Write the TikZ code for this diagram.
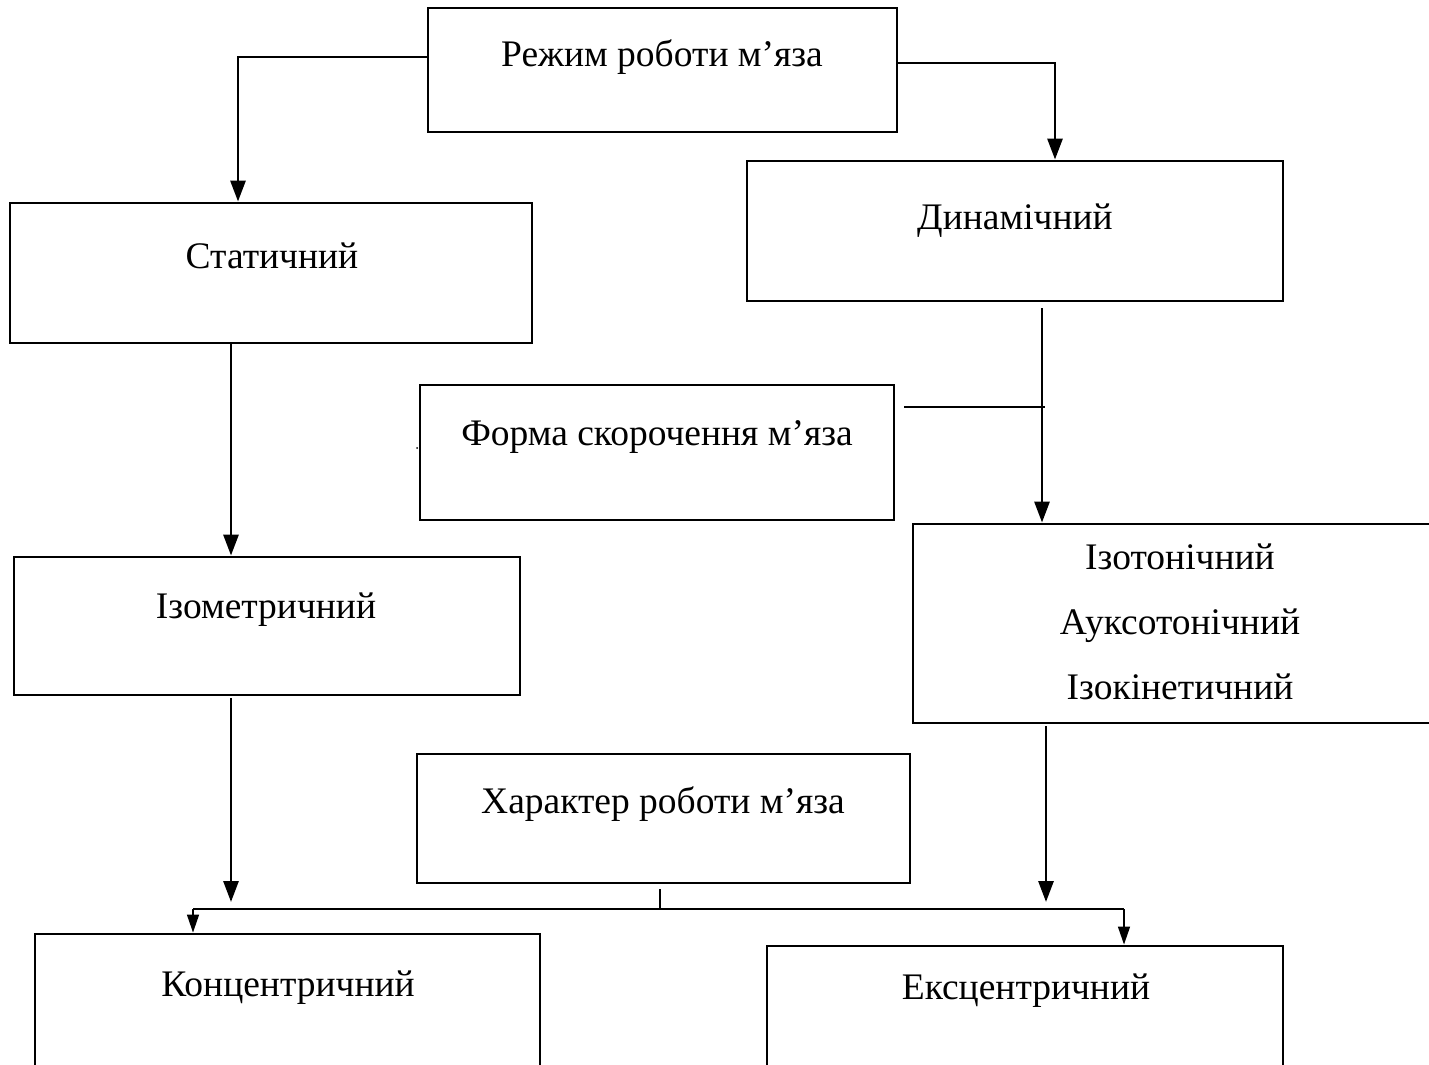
\documentclass[tikz,border=0pt]{standalone}
\usepackage{fontspec}
\setmainfont{Liberation Serif}
\usetikzlibrary{arrows.meta}
\begin{document}
\begin{tikzpicture}[x=1pt,y=1pt,
  box/.style={draw,line width=2.9pt,inner sep=0pt},
  txt/.style={inner sep=0pt,font=\fontsize{37.5}{65}\selectfont,align=center},
  arr/.style={line width=2.9pt,-{Triangle[length=21pt,width=15pt]}},
  tarr/.style={line width=1.4pt,-{Triangle[length=18pt,width=12pt]}},
  thinline/.style={line width=1.4pt}]
\useasboundingbox (0,0) rectangle (1429,-1065);
\clip (0,0) rectangle (1429,-1065);
% boxes
\node[box,minimum width=469pt,minimum height=124pt] (A) at (662.5,-70) {};
\node[box,minimum width=522pt,minimum height=140pt] (S) at (271,-273) {};
\node[box,minimum width=536pt,minimum height=140pt] (D) at (1015,-231) {};
\node[box,minimum width=474pt,minimum height=135pt] (F) at (657,-452.5) {};
\node[box,minimum width=506pt,minimum height=138pt] (I) at (267,-626) {};
\node[box,minimum width=540pt,minimum height=199pt] (T) at (1183,-623.5) {};
\node[box,minimum width=493pt,minimum height=129pt] (H) at (663.5,-818.5) {};
\node[box,minimum width=505pt,minimum height=180pt] (K) at (287.5,-1024) {};
\node[box,minimum width=516pt,minimum height=170pt] (E) at (1025,-1031) {};
% texts
\node[txt] (tA) at (662,-57) {Режим роботи м’яза};
\node[txt] (tS) at (272,-256) {Статичний};
\node[txt] (tD) at (1015,-221) {Динамічний};
\node[txt] (tF) at (657,-437) {Форма скорочення м’яза};
\node[txt] (tI) at (266,-610) {Ізометричний};
\node[txt] (tT) at (1180,-622) {Ізотонічний\\Ауксотонічний\\Ізокінетичний};
\node[txt] (tH) at (663,-804) {Характер роботи м’яза};
\node[txt] (tK) at (288,-988) {Концентричний};
\node[txt] (tE) at (1026,-991) {Ексцентричний};
% small dot
\node[circle,fill,inner sep=0pt,minimum size=2pt] (dot) at (417,-448) {};
% connectors
\draw[arr] ([yshift=13pt]A.west) -| ([xshift=-33pt]S.north);
\draw[arr] ([yshift=7pt]A.east) -| ([xshift=40pt]D.north);
\draw[arr] ([xshift=-40pt]S.south) -- ([xshift=-40pt]S.south |- I.north);
\draw[arr] ([xshift=27pt,yshift=-6pt]D.south) -- ([xshift=27pt]D.south |- T.north);
\coordinate (fr) at ([xshift=150pt,yshift=45.5pt]F.east);
\draw[thinline] ([xshift=9pt,yshift=45.5pt]F.east) -- (fr);
\coordinate (ia) at (231,-902);
\coordinate (ta) at (1046,-902);
\draw[arr] ([xshift=-36pt,yshift=-2pt]I.south) -- (ia);
\draw[arr] ([xshift=-137pt,yshift=-2pt]T.south) -- (ta);
\coordinate (hl) at (193,-909);
\coordinate (hr) at (1124,-909);
\draw[thinline] ([xshift=-3.5pt,yshift=-5pt]H.south) -- ([xshift=-3.5pt]H.south |- hl);
\draw[thinline] (hl) -- (hr);
\draw[tarr] (hl) -- (hl |- K.north);
\draw[tarr] (hr) -- (hr |- E.north);
\end{tikzpicture}
\end{document}
